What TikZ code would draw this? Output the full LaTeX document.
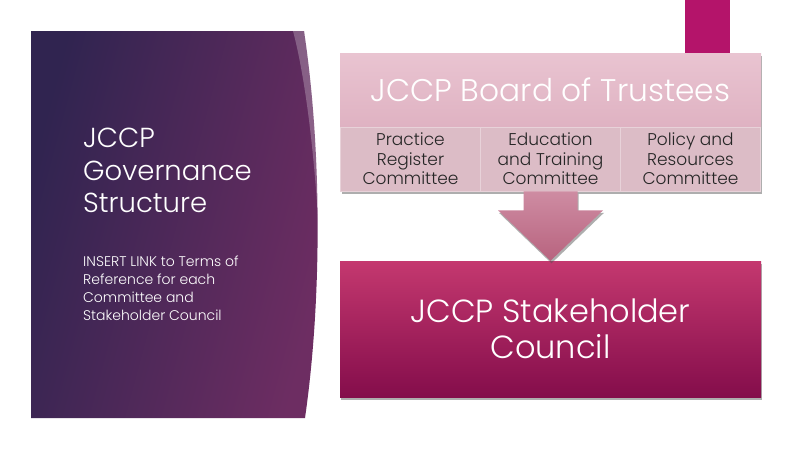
\documentclass[tikz,border=0pt]{standalone}
\usepackage{fontspec}
\setmainfont{Poppins Light}
\usetikzlibrary{calc,shadows}
\definecolor{panelL}{HTML}{302450}
\definecolor{panelR}{HTML}{6D2D62}
\definecolor{barC}{HTML}{B4146A}
\definecolor{hdrT}{HTML}{E9C4D1}
\definecolor{hdrB}{HTML}{DFB2C2}
\definecolor{subC}{HTML}{DCBCC6}
\definecolor{subLine}{HTML}{E8D2D9}
\definecolor{txtD}{HTML}{262626}
\definecolor{arrT}{HTML}{CE8CA2}
\definecolor{arrB}{HTML}{B8637F}
\definecolor{cnT}{HTML}{C4386F}
\definecolor{cnB}{HTML}{840D4B}
\begin{document}
\begin{tikzpicture}[x=1pt,y=-1pt,
  shad/.style={drop shadow={shadow xshift=1pt,shadow yshift=-2.5pt,opacity=0.45,fill=black!70}},
  subbox/.style={shad,fill=subC,draw=subLine,line width=0.6pt,minimum width=140pt,minimum height=64pt,
    inner sep=0pt,align=center,text=txtD,font=\fontsize{17}{19.5}\selectfont},
  bigbox/.style={shad,minimum width=421pt,inner sep=0pt,align=center,text=white}]
\useasboundingbox (0,0) rectangle (800,450);
\fill[white] (0,0) rectangle (800,450);
% left panel
\shade[left color=panelL,right color=panelR,shading angle=75]
  (31,31) -- (304,31) .. controls (322,150) and (322,300) .. (305,418) -- (31,418) -- cycle;
\fill[white,opacity=0.25]
  (293,31) -- (304,31) .. controls (313,80) and (318,160) .. (319,235)
  .. controls (315,160) and (306,80) .. (293,31) -- cycle;
\node[anchor=north west,inner sep=0pt,align=left,text=white,font=\fontsize{27.5}{32.5}\selectfont]
  (title) at (83,128) {JCCP\\Governance\\Structure};
\node[anchor=north west,inner sep=0pt,align=left,text=white,font=\fontsize{14}{18}\selectfont]
  (link) at (83,256) {INSERT LINK to Terms of\\Reference for each\\Committee and\\Stakeholder Council};
% top bar
\fill[barC] (685,0) rectangle (730,53);
% board
\node[bigbox,top color=hdrT,bottom color=hdrB,minimum height=74pt,font=\fontsize{31.3}{33}\selectfont]
  (board) at (550.5,90) {JCCP Board of Trustees};
\node[subbox] (prc) at (410.5,159) {Practice\\Register\\Committee};
\node[subbox] (edu) at (550.5,159) {Education\\and Training\\Committee};
\node[subbox] (pol) at (690.5,159) {Policy and\\Resources\\Committee};
% council
\node[bigbox,top color=cnT,bottom color=cnB,minimum height=136pt,font=\fontsize{32}{36}\selectfont]
  (council) at (550.5,329) {JCCP Stakeholder\\Council};
% arrow
\coordinate (as) at (edu.south);
\coordinate (at) at (council.north);
\shade[shad,top color=arrT,bottom color=arrB]
  ($(as)+(-27,0)$) -- ($(as)+(27,0)$) -- ($(as)+(27,19)$) -- ($(as)+(52.5,19)$) -- (at)
  -- ($(as)+(-52.5,19)$) -- ($(as)+(-27,19)$) -- cycle;
\end{tikzpicture}
\end{document}
